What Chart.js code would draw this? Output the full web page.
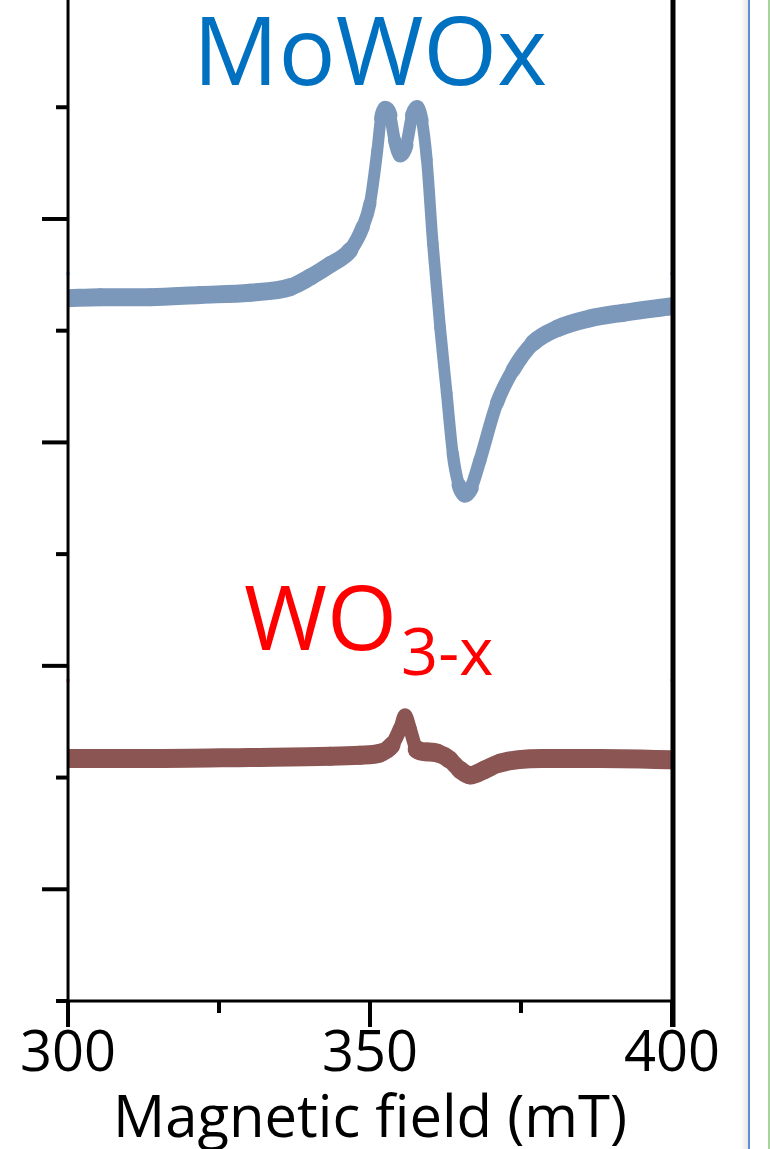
<!DOCTYPE html>
<html>
<head>
<meta charset="utf-8">
<script src="https://cdn.jsdelivr.net/npm/chart.js@4.4.1/dist/chart.umd.min.js"></script>
<style>
  html, body { margin: 0; padding: 0; background: #fff; }
  canvas { display: block; }
</style>
</head>
<body>
<canvas id="epr" width="770" height="1149"></canvas>
<script>
// EPR spectra, field in mT, signal in arbitrary (offset) units
const moField  = [300, 305.3, 313.6, 321.9, 330.1, 336.8, 340.1, 343.4, 346.7, 348.8, 350.0, 351.2, 351.8, 352.5, 353.3, 354.1, 355.0, 356.0, 357.0, 357.8, 358.6, 359.4, 360.4, 361.6, 362.7, 363.7, 364.7, 365.7, 366.7, 368.2, 371.0, 373.7, 377.0, 381.0, 386.4, 391.9, 400];
const moSignal = [6.29, 6.30, 6.30, 6.32, 6.34, 6.39, 6.48, 6.59, 6.72, 6.93, 7.14, 7.61, 7.90, 7.99, 7.93, 7.70, 7.57, 7.66, 7.93, 8.00, 7.88, 7.53, 6.78, 6.03, 5.44, 4.90, 4.62, 4.53, 4.59, 4.84, 5.35, 5.65, 5.89, 6.02, 6.11, 6.16, 6.22];

const woField  = [300, 313.6, 330.1, 343.4, 348.3, 351.7, 353.6, 355.0, 355.8, 356.6, 357.8, 359.4, 361.1, 363.2, 364.9, 366.6, 369.0, 371.5, 378.6, 388.1, 400];
const woSignal = [2.17, 2.17, 2.18, 2.19, 2.20, 2.22, 2.29, 2.44, 2.56, 2.44, 2.25, 2.23, 2.22, 2.16, 2.07, 2.02, 2.07, 2.13, 2.17, 2.17, 2.16];

// little offset markers sitting on both frame sides
const edgeField = [300, 400];
const moEdge = [6.51, 6.51];
const woEdge = [2.87, 2.87];

const xTicks = [300, 350, 400];
const xMinor = [325, 375];
const yTicks = [0, 1, 2, 3, 4, 5, 6, 7, 8];

const pts = (xs, ys) => xs.map((x, i) => ({ x: x, y: ys[i] }));

// noisy trace looks thicker where it runs flat
function bandWidth(base, extra) {
  return ctx => {
    const dx = ctx.p1.x - ctx.p0.x, dy = ctx.p1.y - ctx.p0.y;
    const c = Math.abs(dx) / (Math.hypot(dx, dy) || 1);
    return base + extra * c;
  };
}

function line(ctx, x1, y1, x2, y2) {
  ctx.beginPath(); ctx.moveTo(x1, y1); ctx.lineTo(x2, y2); ctx.stroke();
}

const framePlugin = {
  id: 'frame',
  afterDatasetsDraw(chart) {
    const { ctx, chartArea: a, scales: { x, y } } = chart;
    ctx.save();
    ctx.strokeStyle = '#000';
    ctx.lineCap = 'butt';
    ctx.lineWidth = 3;
    line(ctx, a.left, 0, a.left, a.bottom + 26);
    line(ctx, a.left, a.bottom, a.right, a.bottom);
    ctx.lineWidth = 5;
    line(ctx, a.right + 1, 0, a.right + 1, a.bottom + 26);

    ctx.lineWidth = 4;
    yTicks.forEach(v => {
      const py = y.getPixelForValue(v);
      const len = v % 2 ? 26 : 12;
      line(ctx, a.left - len, py, a.left, py);
    });
    xMinor.forEach(v => {
      const px = x.getPixelForValue(v);
      line(ctx, px, a.bottom, px, a.bottom + 12);
    });
    xTicks.forEach(v => {
      const px = x.getPixelForValue(v);
      line(ctx, px, a.bottom, px, a.bottom + 26);
    });
    ctx.restore();
  },
  afterDraw(chart) {
    const ctx = chart.ctx;
    ctx.save();
    ctx.textBaseline = 'alphabetic';
    ctx.fillStyle = '#0070c0';
    ctx.font = '95px "Open Sans"';
    ctx.textAlign = 'center';
    ctx.fillText('MoWOx', 370, 85);

    ctx.fillStyle = '#ff0000';
    ctx.textAlign = 'left';
    ctx.font = '90px "Open Sans"';
    ctx.fillText('WO', 244, 650);
    const w = ctx.measureText('WO').width;
    ctx.font = '65px "Open Sans"';
    ctx.fillText('3-x', 244 + w + 4, 675);

    // window edge on the right
    const g = ctx.createLinearGradient(740, 0, 748, 0);
    g.addColorStop(0, 'rgba(0,0,0,0)');
    g.addColorStop(1, 'rgba(0,0,0,0.09)');
    ctx.fillStyle = g;
    ctx.fillRect(740, 0, 8, chart.height);
    ctx.fillStyle = '#5b8fd6';
    ctx.fillRect(748, 0, 2, chart.height);
    ctx.fillStyle = '#a6d49c';
    ctx.fillRect(768, 0, 2, chart.height);
    ctx.restore();
  }
};

new Chart(document.getElementById('epr'), {
  type: 'line',
  data: {
    datasets: [
      {
        label: 'MoWOx',
        data: pts(moField, moSignal),
        borderColor: '#7b98bb',
        pointRadius: 0,
        cubicInterpolationMode: 'monotone',
        borderCapStyle: 'round',
        borderJoinStyle: 'round',
        segment: { borderWidth: bandWidth(11, 7) }
      },
      {
        label: 'WO3-x',
        data: pts(woField, woSignal),
        borderColor: '#8a5553',
        pointRadius: 0,
        cubicInterpolationMode: 'monotone',
        borderCapStyle: 'round',
        borderJoinStyle: 'round',
        segment: { borderWidth: bandWidth(11, 8) }
      },
      {
        label: 'MoWOx offset',
        type: 'scatter',
        data: pts(edgeField, moEdge),
        pointStyle: 'rect',
        pointRadius: 2,
        borderWidth: 0,
        backgroundColor: '#2f7fe0',
        clip: false
      },
      {
        label: 'WO3-x offset',
        type: 'scatter',
        data: pts(edgeField, woEdge),
        pointStyle: 'rect',
        pointRadius: 2,
        borderWidth: 0,
        backgroundColor: '#ff4a4a',
        clip: false
      }
    ]
  },
  options: {
    responsive: false,
    animation: false,
    events: [],
    layout: { autoPadding: false, padding: { left: 68, right: 98, top: 0, bottom: 0 } },
    plugins: { legend: { display: false }, tooltip: { enabled: false } },
    scales: {
      x: {
        type: 'linear',
        min: 300,
        max: 400,
        afterBuildTicks: s => { s.ticks = xTicks.map(v => ({ value: v })); },
        afterFit: s => { s.height = 148; },
        grid: { display: false, drawTicks: false },
        border: { display: false },
        ticks: {
          padding: 20,
          color: '#000',
          autoSkip: false,
          maxRotation: 0,
          font: { family: 'Open Sans', size: 56 }
        },
        title: {
          display: true,
          text: 'Magnetic field (mT)',
          color: '#000',
          font: { family: 'Open Sans', size: 58 },
          padding: { top: 0, bottom: -6 }
        }
      },
      y: { type: 'linear', display: false, min: 0, max: 8.96 }
    }
  },
  plugins: [framePlugin]
});
</script>
</body>
</html>
